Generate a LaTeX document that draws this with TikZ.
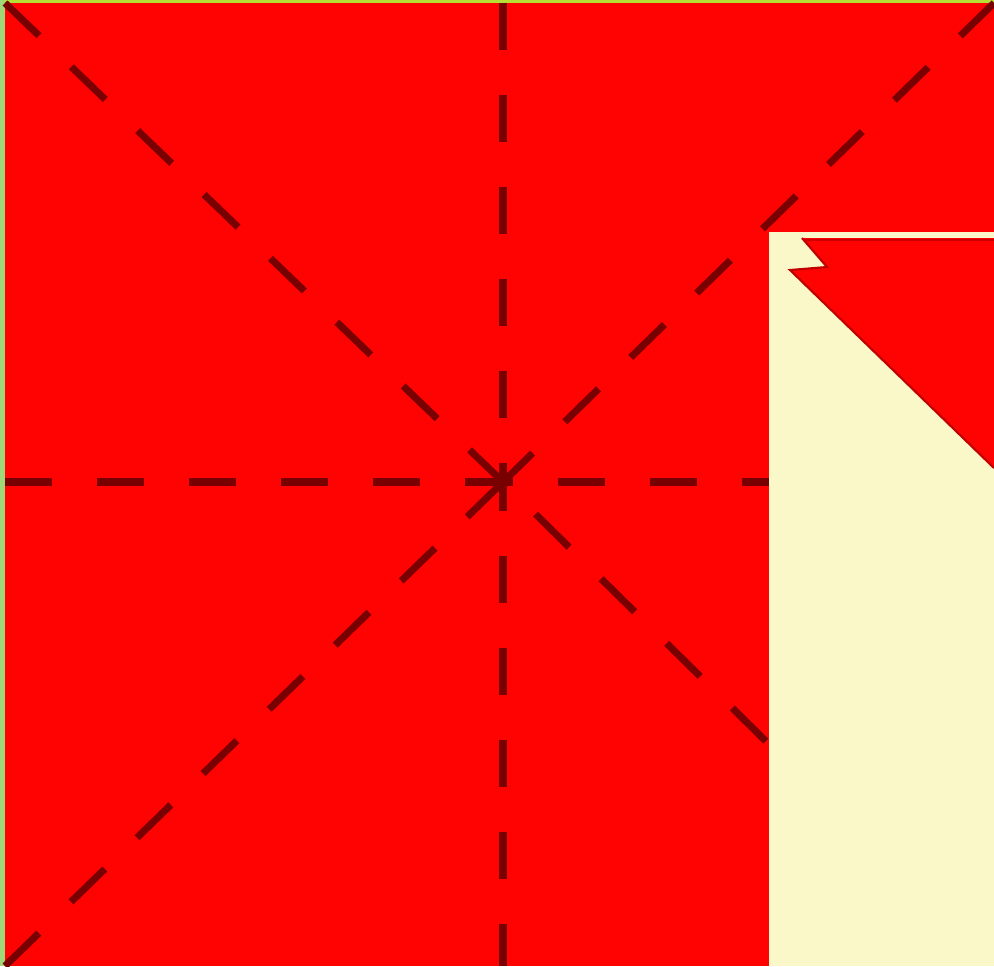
\documentclass[tikz,border=0pt]{standalone}
\usepackage{tikz}
\definecolor{paperred}{RGB}{255,2,2}
\definecolor{creamy}{RGB}{250,247,200}
\definecolor{foldline}{RGB}{120,0,0}
\definecolor{leafgreen}{RGB}{160,216,120}
\definecolor{limegreen}{RGB}{182,222,52}
\tikzset{fold/.style={foldline, line width=2pt, dash pattern=on 13.4pt off 12.8pt}}

\begin{document}
\begin{tikzpicture}
		\useasboundingbox (0,0) rectangle (9.94,9.66);
		\fill[fill = leafgreen] (0,0) rectangle (0.05,9.66);
		\fill[fill = limegreen] (0.05,9.63) rectangle (9.94,9.66);
		\fill[fill = paperred] (0.05,0) rectangle (9.94,9.63);
		\coordinate (O) at (5.03,4.84);
		\draw[fold] (5.03,9.63) -- (O) -- (5.03,0);
		\draw[fold] (0.05,4.84) -- (O) -- (9.94,4.84);
		\draw[fold] (0.05,9.63) -- (O) -- (9.94,0);
		\draw[fold] (0.05,0) -- (O);
		\draw[fold] (9.94,9.63) -- (O);
		\fill[foldline] (O) circle (0.06);
		% folded corner
		\fill[fill = creamy] (7.69,0) rectangle (9.94,7.34);
		\fill[fill = paperred] (8.02,7.28) -- (8.27,6.99) -- (7.90,6.96) -- (9.94,4.98) -- (9.94,7.28) -- cycle;
		\draw[red!75!black, line width=0.6pt] (8.02,7.28) -- (8.27,6.99) -- (7.90,6.96) -- (9.94,4.98);
		\draw[red!80!black, line width=0.8pt] (8.05,7.26) -- (9.94,7.26);
\end{tikzpicture}
\end{document}
